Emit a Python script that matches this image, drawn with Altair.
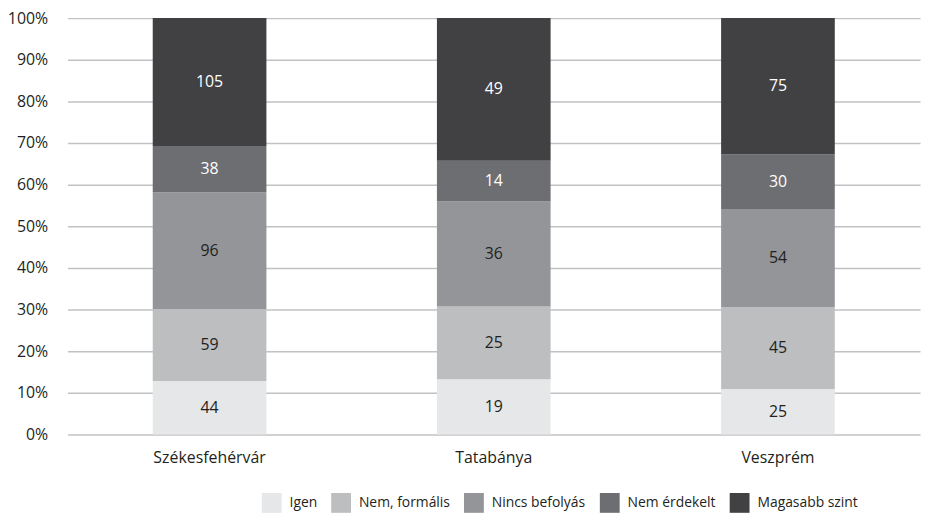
import altair as alt
import pandas as pd

cities = ["Székesfehérvár", "Tatabánya", "Veszprém"]
categories = ["Igen", "Nem, formális", "Nincs befolyás", "Nem érdekelt", "Magasabb szint"]
colors = ["#e6e7e8", "#bcbec0", "#939598", "#6d6e71", "#414042"]
text_colors = ["#231f20", "#231f20", "#231f20", "#ffffff", "#ffffff"]
vals_szekesfehervar = [44, 59, 96, 38, 105]
vals_tatabanya = [19, 25, 36, 14, 49]
vals_veszprem = [25, 45, 54, 30, 75]

rows = []
for city, vals in zip(cities, [vals_szekesfehervar, vals_tatabanya, vals_veszprem]):
    for i, (cat, v) in enumerate(zip(categories, vals)):
        rows.append({"city": city, "cat": cat, "value": v, "order": i, "tc": text_colors[i]})
df = pd.DataFrame(rows)

FONT = "Open Sans"
FS = 16

x_enc = alt.X("city:N", sort=cities, title=None,
              scale=alt.Scale(paddingInner=0.6, paddingOuter=0.3),
              axis=alt.Axis(labelAngle=0, ticks=False, domain=False, labelPadding=15,
                            labelFontSize=FS, labelColor="#231f20", labelFont=FONT))

bars = alt.Chart(df).mark_bar().encode(
    x=x_enc,
    y=alt.Y("value:Q", stack="normalize", title=None,
            scale=alt.Scale(domain=[0, 1]),
            axis=alt.Axis(format=".0%", values=[i / 10 for i in range(11)], ticks=False,
                          domain=False, labelPadding=20, labelFontSize=FS,
                          labelColor="#231f20", labelFont=FONT,
                          grid=True, gridColor="#c2c2c4", gridWidth=1.5)),
    color=alt.Color("cat:N", sort=categories,
                    scale=alt.Scale(domain=categories, range=colors),
                    legend=alt.Legend(title=None, orient="none", direction="horizontal",
                                      legendX=196, legendY=479, padding=0,
                                      symbolType="square",
                                      symbolSize=400, symbolStrokeWidth=0,
                                      labelFontSize=14, labelFont=FONT, labelColor="#231f20",
                                      labelOffset=8, columnPadding=14, symbolOpacity=1)),
    order=alt.Order("order:Q"),
)

texts = alt.Chart(df).transform_window(
    cum="sum(value)", groupby=["city"], sort=[alt.SortField("order")]
).transform_joinaggregate(
    total="sum(value)", groupby=["city"]
).transform_calculate(
    mid="(datum.cum - datum.value/2) / datum.total"
).mark_text(fontSize=FS, font=FONT, baseline="middle").encode(
    x=alt.X("city:N", sort=cities),
    y=alt.Y("mid:Q"),
    text=alt.Text("value:Q"),
    color=alt.Color("tc:N", scale=None),
)

chart = alt.layer(bars, texts).properties(
    width=860, height=420,
    autosize=alt.AutoSizeParams(type="none"),
    padding={"left": 60, "top": 8, "right": 5, "bottom": 79},
).configure_view(stroke=None)

chart.save("out.html", embed_options={"renderer": "svg", "actions": False})
